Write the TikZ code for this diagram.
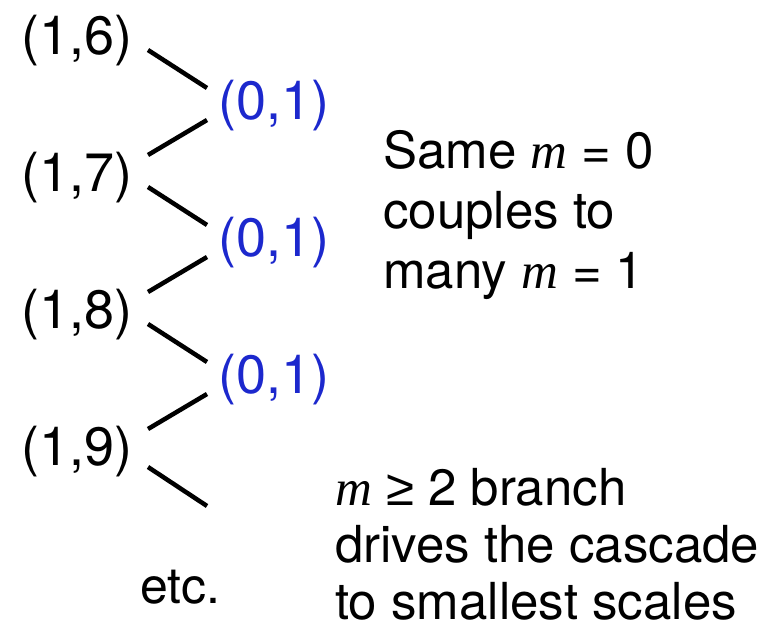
\documentclass[tikz,border=0pt]{standalone}
\usepackage{fontspec}
\setmainfont{TeX Gyre Heros}
\newfontfamily\mfont{Liberation Serif}
\newfontfamily\gefont{Liberation Sans}
\definecolor{modeblue}{RGB}{28,40,205}
\newcommand{\mm}{{\mfont\itshape m}}
\begin{document}
\begin{tikzpicture}[x=1pt,y=1pt,
  lbl/.style={inner sep=0pt,anchor=base west,font=\fontsize{54}{60}\selectfont},
  blbl/.style={lbl,text=modeblue},
  txt/.style={inner sep=0pt,anchor=base west,align=left,font=\fontsize{51}{57}\selectfont},
  link/.style={line width=4.5pt}]
\useasboundingbox (0,0) rectangle (782,-630);
% left labels (1,n)
\node[lbl] (a6) at (21,-54) {(1,6)};
\node[lbl] (a7) at (21,-191) {(1,7)};
\node[lbl] (a8) at (21,-328) {(1,8)};
\node[lbl] (a9) at (21,-465) {(1,9)};
% blue labels
\node[blbl] (b1) at (218,-119) {(0,1)};
\node[blbl] (b2) at (218,-256) {(0,1)};
\node[blbl] (b3) at (218,-393) {(0,1)};
\coordinate (tail) at (207,-506);
% connectors
\draw[link] ([shift={(127,4)}]a6.base west) -- ([shift={(-11,31)}]b1.base west);
\draw[link] ([shift={(-11,-1)}]b1.base west) -- ([shift={(127,36)}]a7.base west);
\draw[link] ([shift={(127,4)}]a7.base west) -- ([shift={(-11,31)}]b2.base west);
\draw[link] ([shift={(-11,-1)}]b2.base west) -- ([shift={(127,36)}]a8.base west);
\draw[link] ([shift={(127,4)}]a8.base west) -- ([shift={(-11,31)}]b3.base west);
\draw[link] ([shift={(-11,-1)}]b3.base west) -- ([shift={(127,36)}]a9.base west);
\draw[link] ([shift={(127,-2)}]a9.base west) -- (tail);
% texts (base anchor = last line)
\node[txt,font=\fontsize{51}{60}\selectfont] (same) at (383,-288) {Same \mm{} = 0\\couples to\\many \mm{} = 1};
\node[txt] (branch) at (335,-619) {\mm{} {\gefont ≥} 2 branch\\drives the cascade\\to smallest scales};
\node[txt,font=\fontsize{50}{57}\selectfont] (etc) at (140,-603) {etc.};
\end{tikzpicture}
\end{document}
